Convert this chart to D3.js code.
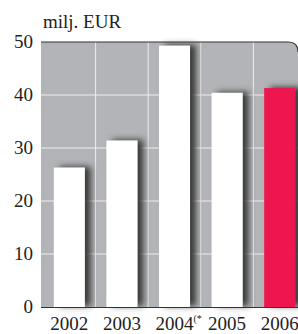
<!DOCTYPE html>
<meta charset="utf-8">
<style>
    body { margin: 0; background: #fff; }
    text { font-family: "Liberation Serif", "DejaVu Serif", serif; fill: #222; }
</style>
<body>
<script src="https://d3js.org/d3.v7.min.js"></script>
<script>

    // data
    var years = ["2002", "2003", "2004", "2005", "2006"];
    var values = [26.3, 31.4, 49.3, 40.4, 41.3];
    var yTicks = [0, 10, 20, 30, 40, 50];
    var unitLabel = "milj. EUR";

    var width = 298, height = 334;
    var plot = { left: 41, right: 298, top: 42, bottom: 307 };

    var svg = d3.select("body").append("svg")
        .attr("width", width)
        .attr("height", height);

    // bar drop shadow
    var defs = svg.append("defs");
    var f = defs.append("filter").attr("id", "shadow")
        .attr("x", "-20%").attr("y", "-10%").attr("width", "160%").attr("height", "120%");
    f.append("feDropShadow")
        .attr("dx", 6).attr("dy", -1)
        .attr("stdDeviation", 3)
        .attr("flood-color", "#333")
        .attr("flood-opacity", 0.95);

    var x = d3.scaleBand()
        .domain(years)
        .range([43, 306])
        .paddingInner(0.41)
        .paddingOuter(0.205);

    var y = d3.scaleLinear()
        .domain([0, 50])
        .range([plot.bottom, plot.top]);

    // grey plot background with rounded top-right corner
    var r = 10;
    var bgPath = "M" + plot.left + "," + plot.bottom +
        "V" + plot.top +
        "H" + (plot.right - r) +
        "Q" + plot.right + "," + plot.top + " " + plot.right + "," + (plot.top + r) +
        "V" + plot.bottom + "Z";
    svg.append("path")
        .attr("d", bgPath)
        .attr("fill", "#b3b4b7");

    // horizontal gridlines
    svg.selectAll(".hgrid")
        .data(yTicks.filter(function (d) { return d > 0 && d < 50; }))
        .enter().append("line")
        .attr("x1", plot.left).attr("x2", plot.right)
        .attr("y1", function (d) { return y(d); })
        .attr("y2", function (d) { return y(d); })
        .attr("stroke", "#eeeeee")
        .attr("stroke-width", 1);

    // vertical gridlines between bands
    var step = x.step();
    svg.selectAll(".vgrid")
        .data(years.slice(0, years.length - 1))
        .enter().append("line")
        .attr("x1", function (d) { return x(d) + x.bandwidth() + (step - x.bandwidth()) / 2; })
        .attr("x2", function (d) { return x(d) + x.bandwidth() + (step - x.bandwidth()) / 2; })
        .attr("y1", plot.top).attr("y2", plot.bottom)
        .attr("stroke", "#eeeeee")
        .attr("stroke-width", 1);

    // top border
    svg.append("path")
        .attr("d", "M" + plot.left + "," + plot.top + "H" + (plot.right - r) +
            "Q" + plot.right + "," + plot.top + " " + plot.right + "," + (plot.top + r))
        .attr("fill", "none")
        .attr("stroke", "#333")
        .attr("stroke-width", 1.2);

    // bars
    svg.selectAll(".bar")
        .data(values)
        .enter().append("rect")
        .attr("x", function (d, i) { return x(years[i]); })
        .attr("width", x.bandwidth())
        .attr("y", function (d) { return y(d); })
        .attr("height", function (d) { return y(0) - y(d); })
        .attr("fill", function (d, i) { return i === years.length - 1 ? "#ee1650" : "#ffffff"; })
        .attr("filter", "url(#shadow)");

    // baseline
    svg.append("line")
        .attr("x1", plot.left).attr("x2", plot.right)
        .attr("y1", plot.bottom + 0.5).attr("y2", plot.bottom + 0.5)
        .attr("stroke", "#333")
        .attr("stroke-width", 1.2);

    // y tick labels
    svg.selectAll(".ylab")
        .data(yTicks)
        .enter().append("text")
        .attr("x", 33)
        .attr("y", function (d) { return y(d) + 6; })
        .attr("text-anchor", "end")
        .attr("font-size", "19px")
        .text(function (d) { return d; });

    // x tick labels
    svg.selectAll(".xlab")
        .data(years)
        .enter().append("text")
        .attr("x", function (d) { return x(d) + x.bandwidth() / 2; })
        .attr("y", 330)
        .attr("text-anchor", "middle")
        .attr("font-size", "19px")
        .text(function (d) { return d; });

    // footnote mark on 2004
    svg.append("text")
        .attr("x", x("2004") + x.bandwidth() / 2 + 19)
        .attr("y", 322)
        .attr("font-size", "10px")
        .text("(*");

    // unit label
    svg.append("text")
        .attr("x", 43)
        .attr("y", 28)
        .attr("font-size", "19px")
        .text(unitLabel);

</script>
</body>
